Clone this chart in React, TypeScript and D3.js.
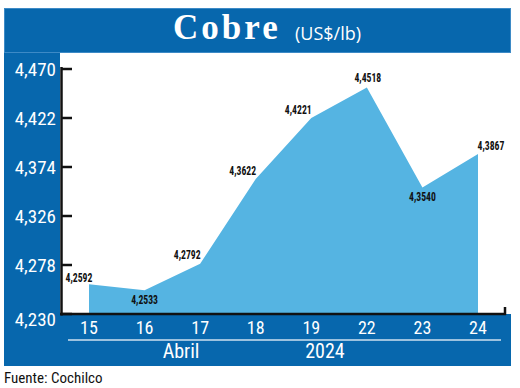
import * as d3 from 'd3';

// Cobre (US$/lb) - Cochilco, abril 2024
const days = ['15', '16', '17', '18', '19', '22', '23', '24'];
const prices = [4.2592, 4.2533, 4.2792, 4.3622, 4.4221, 4.4518, 4.354, 4.3867];
const priceLabels = ['4,2592', '4,2533', '4,2792', '4,3622', '4,4221', '4,4518', '4,3540', '4,3867'];
const yTicks = [4.23, 4.278, 4.326, 4.374, 4.422, 4.47];
const yTickLabels = ['4,230', '4,278', '4,326', '4,374', '4,422', '4,470'];
const monthLabel = 'Abril';
const yearLabel = '2024';

const BLUE = '#0767ad';
const AREA = '#55b4e2';
const narrow = '"Liberation Sans Narrow", "Arial Narrow", "Roboto Condensed", Roboto, sans-serif';

// where each value label sits relative to its point
const labelOffset = (i: number) => {
  const v = prices[i];
  if (i === 0) return [-10, -7];
  if (i === prices.length - 1) return [13, -9];
  const prev = prices[i - 1];
  const next = prices[i + 1];
  if (v < prev && v < next) return [0, 9];
  if (v > prev && v > next) return [1, -10];
  return [-13, -9];
};

const App = () => {
  const width = 520;
  const height = 388;

  const x = d3.scalePoint<string>().domain(days).range([89, 478]);
  const y = d3.scaleLinear().domain([4.23, 4.47]).range([314, 69]);

  const area = d3
    .area<number>()
    .x((_, i) => x(days[i]) as number)
    .y0(y(4.23))
    .y1((d) => y(d));

  return (
    <svg width={width} height={height} style={{ position: 'absolute', left: 0, top: 0 }}>
      {/* blue panel */}
      <rect x={4} y={8} width={507} height={358} fill={BLUE} />
      <rect x={4.5} y={8.5} width={506} height={44} fill="none" stroke="#3d8ac6" strokeWidth={1} />
      {/* white plot area */}
      <rect x={60} y={53} width={451} height={261} fill="#fff" />

      {/* title */}
      <text
        x={173}
        y={39}
        fill="#fff"
        fontFamily='"Liberation Serif", "DejaVu Serif", serif'
        fontWeight="bold"
        fontSize={35}
        letterSpacing={3}
      >
        Cobre
      </text>
      <text x={295} y={40} fill="#fff" fontFamily='"Open Sans", sans-serif' fontSize={18}>
        (US$/lb)
      </text>

      {/* area */}
      <path d={area(prices) ?? ''} fill={AREA} />

      {/* y axis */}
      <line x1={61.5} x2={61.5} y1={67} y2={315.5} stroke="#111" strokeWidth={2.5} />
      {yTicks.map((t, i) => (
        <g key={t}>
          <line x1={61} x2={72} y1={y(t)} y2={y(t)} stroke="#111" strokeWidth={2.5} />
          <text
            x={56}
            y={y(t)}
            dy={i === 0 ? '0.65em' : '0.35em'}
            textAnchor="end"
            fill="#fff"
            fontFamily={narrow}
            fontSize={19}
          >
            {yTickLabels[i]}
          </text>
        </g>
      ))}

      {/* x axis */}
      <line x1={60} x2={506} y1={314} y2={314} stroke="#111" strokeWidth={2.5} />
      <line x1={505} x2={505} y1={307} y2={315} stroke="#111" strokeWidth={2.5} />
      {days.map((d) => (
        <text
          key={d}
          x={x(d)}
          y={334}
          textAnchor="middle"
          fill="#fff"
          fontFamily={narrow}
          fontSize={18}
        >
          {d}
        </text>
      ))}
      <line x1={68} x2={501} y1={340} y2={340} stroke="#cfe0f0" strokeWidth={1.5} />
      <text x={181} y={358} textAnchor="middle" fill="#fff" fontFamily={narrow} fontSize={20}>
        {monthLabel}
      </text>
      <text x={325} y={358} textAnchor="middle" fill="#fff" fontFamily={narrow} fontSize={20}>
        {yearLabel}
      </text>

      {/* value labels */}
      {prices.map((v, i) => {
        const [dx, dy] = labelOffset(i);
        const lx = (x(days[i]) as number) + dx;
        const ly = y(v) + dy;
        return (
          <text
            key={i}
            x={lx}
            y={ly}
            dy="0.35em"
            textAnchor="middle"
            fill="#111"
            fontFamily={narrow}
            fontWeight="bold"
            fontSize={11}
            transform={`translate(${lx},${ly}) scale(0.88,1.2) translate(${-lx},${-ly})`}
          >
            {priceLabels[i]}
          </text>
        );
      })}

      {/* source */}
      <text x={4} y={383} fill="#111" fontFamily={narrow} fontSize={15}>
        Fuente: Cochilco
      </text>
    </svg>
  );
};

export default App;
